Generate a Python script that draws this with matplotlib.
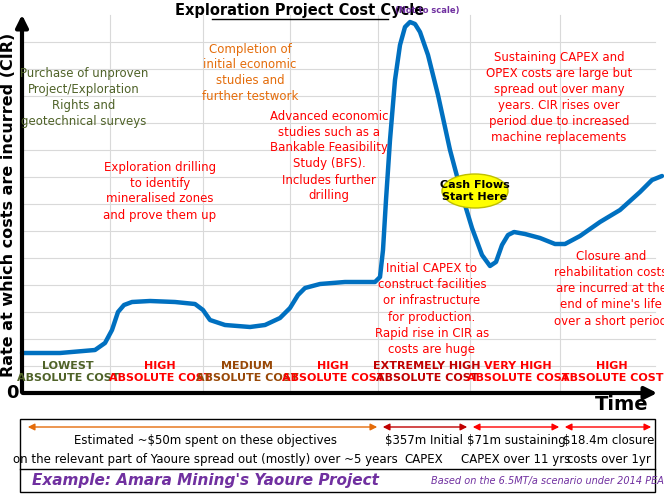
import matplotlib.pyplot as plt
from matplotlib.patches import Ellipse, Rectangle

plt.rcParams['font.family'] = ['Liberation Sans Narrow', 'DejaVu Sans']

# curve points (pixel units, y down)
curve_x = [22, 60, 95, 105, 112, 118, 124, 132, 150, 175, 195, 203, 210, 225, 250, 265, 280, 290, 298,
           305, 320, 345, 375, 380, 383, 386, 390, 395, 400, 405, 410, 415, 420, 428, 438, 450, 462,
           472, 482, 490, 496, 502, 508, 514, 525, 540, 555, 565, 580, 600, 620, 640, 652, 662]
curve_y = [353, 353, 350, 343, 330, 312, 305, 302, 301, 302, 304, 310, 320, 325, 327, 325, 318, 308, 295,
           288, 284, 282, 282, 277, 250, 200, 140, 80, 45, 27, 22, 24, 32, 55, 95, 150, 195,
           228, 255, 266, 262, 245, 235, 232, 234, 238, 244, 244, 236, 222, 210, 192, 180, 176]

section_x = [68, 160, 247, 333, 427, 518, 612]
section_top = ["LOWEST", "HIGH", "MEDIUM", "HIGH", "EXTREMELY HIGH", "VERY HIGH", "HIGH"]
section_colors = ["#4f6228", "#ff0000", "#984807", "#ff0000", "#c00000", "#ff0000", "#ff0000"]
dividers = [110, 203, 290, 378, 470, 560]

fig = plt.figure(figsize=(6.64, 4.95), dpi=100)
ax = fig.add_axes([0, 0, 1, 1])
ax.set_xlim(0, 664)
ax.set_ylim(495, 0)
ax.axis('off')

# grid
for gy in range(366, 15, -27):
    ax.plot([22, 655], [gy, gy], color='#d9d9d9', lw=0.8, zorder=0)
for dx in dividers:
    ax.plot([dx, dx], [15, 393], color='#d9d9d9', lw=0.8, zorder=0)

ax.plot(curve_x, curve_y, color='#0070c0', lw=3.2, solid_capstyle='round', zorder=3)

# axes with arrows
ax.annotate('', xy=(22, 12), xytext=(22, 395),
            arrowprops=dict(arrowstyle='-|>', lw=3, color='black', mutation_scale=18))
ax.annotate('', xy=(660, 393), xytext=(20, 393),
            arrowprops=dict(arrowstyle='-|>', lw=3, color='black', mutation_scale=18))
ax.text(12, 393, '0', fontsize=13, fontweight='bold', ha='center', va='center')
ax.text(622, 405, 'Time', fontsize=14, fontweight='bold', ha='center', va='center')
ax.text(9, 205, 'Rate at which costs are incurred (CIR)', fontsize=11.5, fontweight='bold',
        rotation=90, ha='center', va='center')

ax.text(300, 10, 'Exploration Project Cost Cycle', fontsize=10.5, fontweight='bold',
        ha='center', va='center')
ax.plot([212, 388], [19, 19], color='black', lw=1)
ax.text(427, 10, '(Not to scale)', fontsize=6, color='#7030a0', fontweight='bold',
        ha='center', va='center')

for sx, top, c in zip(section_x, section_top, section_colors):
    ax.text(sx, 372, top + '\nABSOLUTE COST', fontsize=8, fontweight='bold', color=c,
            ha='center', va='center', linespacing=1.3)

red = '#ff0000'
fs = 8.5
ax.text(84, 97, 'Purchase of unproven\nProject/Exploration\nRights and\ngeotechnical surveys',
        fontsize=fs, color='#4f6228', ha='center', va='center', linespacing=1.3)
ax.text(160, 191, 'Exploration drilling\nto identify\nmineralised zones\nand prove them up',
        fontsize=fs, color=red, ha='center', va='center', linespacing=1.3)
ax.text(250, 73, 'Completion of\ninitial economic\nstudies and\nfurther testwork',
        fontsize=fs, color='#e46c0a', ha='center', va='center', linespacing=1.3)
ax.text(329, 156, 'Advanced economic\nstudies such as a\nBankable Feasibility\nStudy (BFS).\nIncludes further\ndrilling',
        fontsize=fs, color=red, ha='center', va='center', linespacing=1.3)
ax.text(432, 309, 'Initial CAPEX to\nconstruct facilities\nor infrastructure\nfor production.\nRapid rise in CIR as\ncosts are huge',
        fontsize=fs, color=red, ha='center', va='center', linespacing=1.3)
ax.text(559, 98, 'Sustaining CAPEX and\nOPEX costs are large but\nspread out over many\nyears. CIR rises over\nperiod due to increased\nmachine replacements',
        fontsize=fs, color=red, ha='center', va='center', linespacing=1.3)
ax.text(611, 289, "Closure and\nrehabilitation costs\nare incurred at the\nend of mine's life\nover a short period",
        fontsize=fs, color=red, ha='center', va='center', linespacing=1.3)

ax.add_patch(Ellipse((475, 191), 66, 34, facecolor='#ffff00', edgecolor='#bfbf00', lw=1, zorder=4))
ax.text(475, 191, 'Cash Flows\nStart Here', fontsize=8, fontweight='bold', ha='center',
        va='center', zorder=5, linespacing=1.2)

# bottom box
ax.add_patch(Rectangle((20, 419), 635, 73, facecolor='white', edgecolor='black', lw=1))
ax.plot([20, 655], [469, 469], color='black', lw=1)
segs = [(25, 380, '#e46c0a'), (380, 470, '#c00000'), (470, 562, '#ff0000'), (562, 654, '#ff0000')]
for x0, x1, c in segs:
    ax.annotate('', xy=(x0, 427), xytext=(x1, 427),
                arrowprops=dict(arrowstyle='<|-|>', color=c, lw=1, mutation_scale=10))
ax.text(205, 450, 'Estimated ~$50m spent on these objectives\non the relevant part of Yaoure spread out (mostly) over ~5 years',
        fontsize=8.5, ha='center', va='center', linespacing=1.6)
ax.text(424, 450, '$357m Initial\nCAPEX', fontsize=8.5, ha='center', va='center', linespacing=1.6)
ax.text(516, 450, '$71m sustaining\nCAPEX over 11 yrs', fontsize=8.5, ha='center', va='center', linespacing=1.6)
ax.text(609, 450, '$18.4m closure\ncosts over 1yr', fontsize=8.5, ha='center', va='center', linespacing=1.6)
ax.text(32, 481, "Example: Amara Mining's Yaoure Project", fontsize=11, fontweight='bold',
        fontstyle='italic', color='#7030a0', ha='left', va='center')
ax.text(547, 481, 'Based on the 6.5MT/a scenario under 2014 PEA', fontsize=7,
        fontstyle='italic', color='#7030a0', ha='center', va='center')

fig.savefig('out.png', dpi=100)
